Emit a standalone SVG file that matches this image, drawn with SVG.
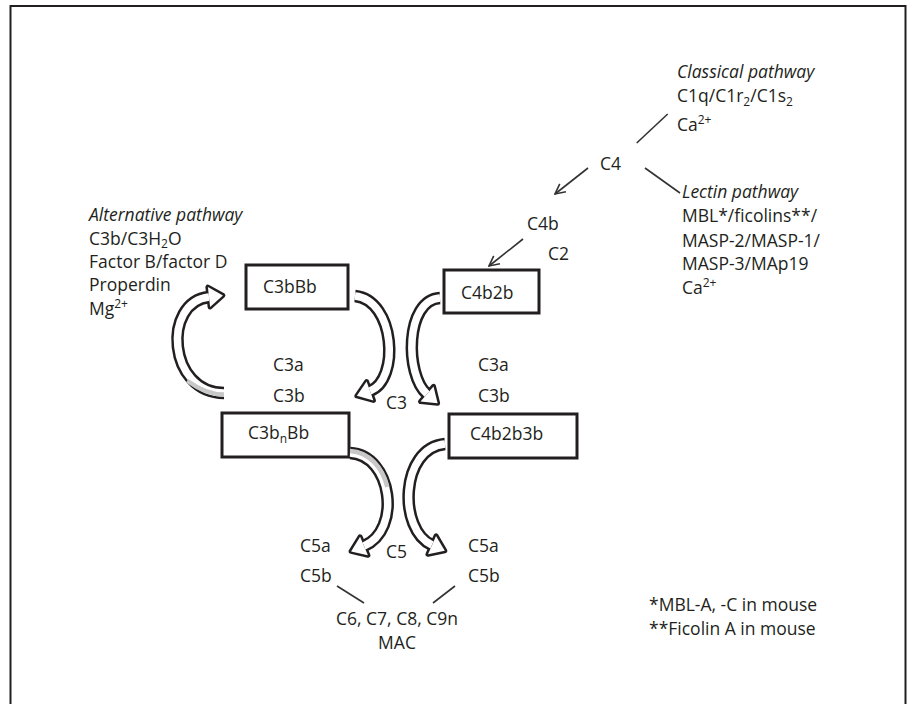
<svg xmlns="http://www.w3.org/2000/svg" width="912" height="704" viewBox="0 0 912 704">
<defs>
<marker id="open" viewBox="0 0 12 12" refX="11" refY="6" markerWidth="12" markerHeight="12" markerUnits="userSpaceOnUse" orient="auto">
<path d="M1,1 L11,6 L1,11" fill="none" stroke="#333" stroke-width="1.6"/>
</marker>
</defs>
<style>
text{font-family:"Open Sans","Liberation Sans",sans-serif;font-size:17.5px;fill:#231f20}
.it{font-style:italic}
.sm{font-size:12px}
.box{fill:#fff;stroke:#231f20;stroke-width:3}
.ln{stroke:#333;stroke-width:1.6;fill:none}
.bo{fill:none;stroke:#231f20;stroke-width:12.5}
.bi{fill:none;stroke:#fff;stroke-width:7.5}
.ho{fill:#231f20;stroke:#231f20;stroke-width:5;stroke-linejoin:round}
.hi{fill:#fff}
.gr{fill:none;stroke:#c8c8c8;stroke-width:4.5}
.frame{fill:none;stroke:#231f20;stroke-width:2}
</style>
<rect width="912" height="704" fill="#fff"/>
<path class="frame" d="M10.5,704 V6 H905.5 V704"/>

<g id="classical">
<text class="it" x="677" y="78">Classical pathway</text>
<text x="677" y="102">C1q/C1r<tspan class="sm" dy="3.5">2</tspan><tspan dy="-3.5">/C1s</tspan><tspan class="sm" dy="3.5">2</tspan></text>
<text x="677" y="131">Ca<tspan class="sm" dy="-7">2+</tspan></text>
</g>
<g id="lectin">
<text class="it" x="682" y="198">Lectin pathway</text>
<text x="682" y="222">MBL*/ficolins**/</text>
<text x="682" y="246.5">MASP-2/MASP-1/</text>
<text x="682" y="270">MASP-3/MAp19</text>
<text x="682" y="293.5">Ca<tspan class="sm" dy="-7">2+</tspan></text>
</g>
<g id="alternative">
<text class="it" x="89" y="221">Alternative pathway</text>
<text x="89" y="244.5">C3b/C3H<tspan class="sm" dy="3">2</tspan><tspan dy="-3">O</tspan></text>
<text x="89" y="267.5">Factor B/factor D</text>
<text x="89" y="291">Properdin</text>
<text x="89" y="314.5">Mg<tspan class="sm" dy="-7">2+</tspan></text>
</g>
<g id="c4"><text x="600" y="170">C4</text></g>
<g id="c4b"><text x="527" y="230">C4b</text><text x="548" y="260">C2</text></g>

<g id="C3bBb"><rect class="box" x="246" y="265" width="102" height="44"/><text x="263" y="293">C3bBb</text></g>
<g id="C4b2b"><rect class="box" x="444" y="270" width="95" height="43"/><text x="461" y="299">C4b2b</text></g>
<g id="C3bnBb"><rect class="box" x="222" y="413" width="127" height="44"/><text x="248" y="439">C3b<tspan class="sm" dy="4">n</tspan><tspan dy="-4">Bb</tspan></text></g>
<g id="C4b2b3b"><rect class="box" x="449" y="414" width="128" height="44"/><text x="470" y="440">C4b2b3b</text></g>

<g id="c3labels">
<text x="273" y="371">C3a</text><text x="273" y="402">C3b</text>
<text x="386" y="409">C3</text>
<text x="478" y="371">C3a</text><text x="478" y="402">C3b</text>
</g>
<g id="c5labels">
<text x="300" y="552">C5a</text><text x="300" y="582">C5b</text>
<text x="386" y="558">C5</text>
<text x="468" y="552">C5a</text><text x="468" y="582">C5b</text>
</g>
<g id="mac">
<text x="397" y="625" text-anchor="middle">C6, C7, C8, C9n</text>
<text x="397" y="649" text-anchor="middle">MAC</text>
</g>
<g id="notes">
<text x="649" y="611">*MBL-A, -C in mouse</text>
<text x="649" y="635">**Ficolin A in mouse</text>
</g>

<g id="connectors">
<line class="ln" x1="667.7" y1="114" x2="636.7" y2="143"/>
<line class="ln" x1="645" y1="168" x2="680" y2="193"/>
<line class="ln" x1="588" y1="168" x2="555" y2="194" marker-end="url(#open)"/>
<line class="ln" x1="523" y1="239" x2="489" y2="266" marker-end="url(#open)"/>
<line class="ln" x1="337" y1="586" x2="364" y2="603"/>
<line class="ln" x1="455" y1="586" x2="433" y2="603"/>

<g id="arrowA">
<path class="bo" d="M224,393 C168,393 162,302 209,297"/>
<polygon class="ho" points="210.1,306.9 222.9,295.5 207.9,287.1"/>
<path class="bi" d="M224,393 C168,393 162,302 209,297"/>
<polygon class="hi" points="210.1,306.9 222.9,295.5 207.9,287.1"/>
<path class="gr" d="M224,394.5 C207.2,394.5 194.9,386.3 187.2,380.7"/>
</g>
<g id="arrowB">
<path class="bo" d="M355,296 C395,300 400,380 370,391"/>
<polygon class="ho" points="373.4,400.4 356.9,395.8 366.6,381.6"/>
<path class="bi" d="M355,296 C395,300 400,380 370,391"/>
<polygon class="hi" points="373.4,400.4 356.9,395.8 366.6,381.6"/>
</g>
<g id="arrowC">
<path class="bo" d="M440,298 C405,300 405,375 427,394"/>
<polygon class="ho" points="420.5,401.6 437.6,403.2 433.5,386.4"/>
<path class="bi" d="M440,298 C405,300 405,375 427,394"/>
<polygon class="hi" points="420.5,401.6 437.6,403.2 433.5,386.4"/>
</g>
<g id="arrowD">
<path class="bo" d="M350,453 C392,455 402,530 364,546"/>
<polygon class="ho" points="367.9,555.2 351.1,551.4 360.1,536.8"/>
<path class="bi" d="M350,453 C392,455 402,530 364,546"/>
<polygon class="hi" points="367.9,555.2 351.1,551.4 360.1,536.8"/>
<path class="gr" d="M350,451 C369.5,452 382.5,467.8 387.3,486.9"/>
</g>
<g id="arrowE">
<path class="bo" d="M445,444 C400,448 398,530 432,545"/>
<polygon class="ho" points="428,554.2 444.8,550.7 436,535.9"/>
<path class="bi" d="M445,444 C400,448 398,530 432,545"/>
<polygon class="hi" points="428,554.2 444.8,550.7 436,535.9"/>
</g>
</g>
</svg>
